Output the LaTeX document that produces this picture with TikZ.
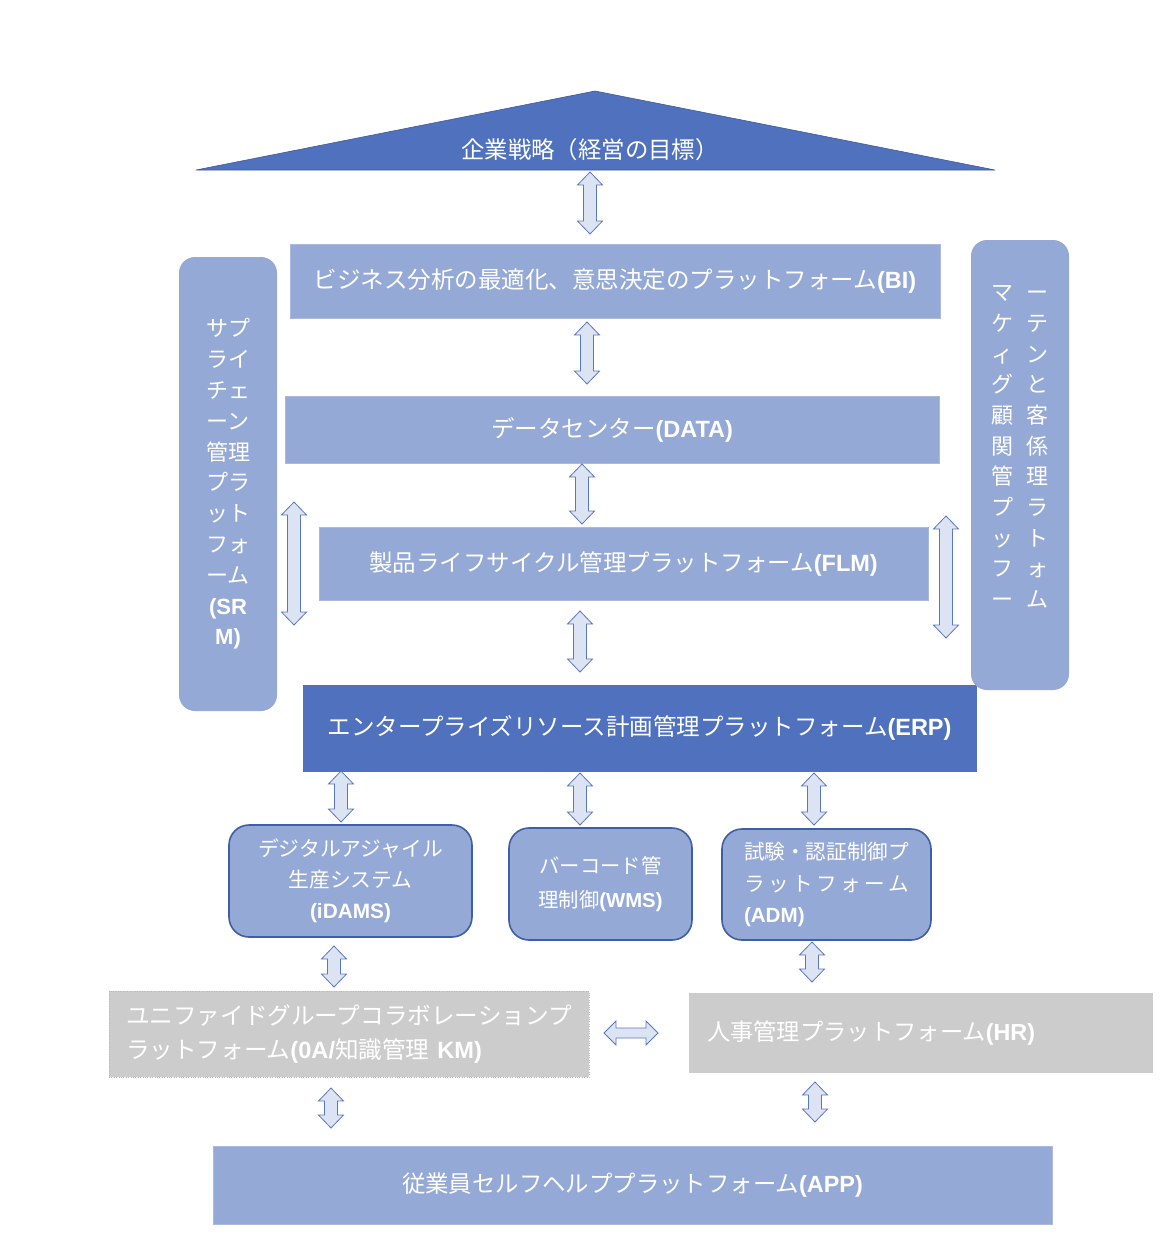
\documentclass[tikz,border=0pt]{standalone}
\usepackage{fontspec}
\setmainfont{Noto Sans CJK JP}
\newfontfamily\latf{Liberation Sans}
\newcommand\codetxt[1]{{\latf\bfseries #1}}
\newcommand\fsz[2]{\fontsize{#1}{#2}\selectfont}
\usetikzlibrary{calc}
\definecolor{darkblue}{HTML}{4F71BE}
\definecolor{lightbox}{HTML}{95A9D6}
\definecolor{lightedge}{HTML}{A9B9E0}
\definecolor{grayfill}{HTML}{CCCCCC}
\definecolor{arrowfill}{HTML}{DCE3F2}
\definecolor{arrowedge}{HTML}{5A78C2}
\definecolor{rboxedge}{HTML}{3E5EA6}
\pgfkeys{/tikz/bal/.initial=13pt,/tikz/baw/.initial=12.5pt,/tikz/bas/.initial=6.5pt}
\tikzset{
  box/.style={rectangle, fill=lightbox, draw=lightedge, line width=0.4pt, text=white, inner sep=0pt, outer sep=0pt},
  panel/.style={box, rounded corners=16pt, draw=none},
  rbox/.style={box, rounded corners=20pt, draw=rboxedge, line width=1.6pt},
  graybox/.style={box, fill=grayfill, draw=none},
  txt/.style={text=white, inner sep=0pt},
  barrow/.style={draw=arrowedge, fill=arrowfill, line width=0.8pt, line join=miter,
    to path={let \p1=(\tikztostart), \p2=(\tikztotarget),
      \p3=($(\p1)!\pgfkeysvalueof{/tikz/bal}!(\p2)$),
      \p4=($(\p2)!\pgfkeysvalueof{/tikz/bal}!(\p1)$) in
      -- ($(\p3)!\pgfkeysvalueof{/tikz/baw}!90:(\p2)$)
      -- ($(\p3)!\pgfkeysvalueof{/tikz/bas}!90:(\p2)$)
      -- ($(\p4)!\pgfkeysvalueof{/tikz/bas}!-90:(\p1)$)
      -- ($(\p4)!\pgfkeysvalueof{/tikz/baw}!-90:(\p1)$)
      -- (\p2)
      -- ($(\p4)!\pgfkeysvalueof{/tikz/baw}!90:(\p1)$)
      -- ($(\p4)!\pgfkeysvalueof{/tikz/bas}!90:(\p1)$)
      -- ($(\p3)!\pgfkeysvalueof{/tikz/bas}!-90:(\p2)$)
      -- ($(\p3)!\pgfkeysvalueof{/tikz/baw}!-90:(\p2)$)
      -- cycle}},
  harrow/.style={barrow, bal=12pt, baw=12pt, bas=5pt}
}
\begin{document}
\begin{tikzpicture}[x=1pt,y=-1pt]
\useasboundingbox (0,0) rectangle (1169,1254);
\fill[white] (0,0) rectangle (1169,1254);

% roof
\filldraw[fill=darkblue, draw=darkblue!80!black, line width=0.6pt] (196,170) -- (595,91) -- (995,170) -- cycle;
\node[txt, font=\fsz{23.4}{27}] (tri) at (590,150) {企業戦略（経営の目標）};
\coordinate (trib) at (590,170);

% main stack
\node[box, minimum width=650, minimum height=74, font=\fsz{23.5}{28}] (bi) at (615,281)
  {ビジネス分析の最適化、意思決定のプラットフォーム\codetxt{(BI)}};
\node[box, minimum width=654, minimum height=67, font=\fsz{23.5}{28}] (data) at (612,429.5)
  {データセンター\codetxt{(DATA)}};
\node[box, minimum width=609, minimum height=73, font=\fsz{23.5}{28}] (flm) at (623.5,563.5)
  {製品ライフサイクル管理プラットフォーム\codetxt{(FLM)}};
\node[box, fill=darkblue, draw=darkblue, minimum width=673, minimum height=86, font=\fsz{23.5}{28}] (erp) at (639.5,728)
  {エンタープライズリソース計画管理プラットフォーム\codetxt{(ERP)}};

% side panels
\node[panel, minimum width=98, minimum height=454, align=center, font=\fsz{22}{30.8}] (srm) at (228,484)
  {サプ\\ライ\\チェ\\ーン\\管理\\プラ\\ット\\フォ\\ーム\\\codetxt{(SR}\\\codetxt{M)}};
\node[panel, minimum width=98, minimum height=450] (mkt) at (1020,465) {};
\node[txt, align=center, font=\fsz{22}{30.7}] (mkttxt) at (1020,447)
  {マ\hspace{13pt}ー\\ケ\hspace{13pt}テ\\ィ\hspace{13pt}ン\\グ\hspace{13pt}と\\顧\hspace{13pt}客\\関\hspace{13pt}係\\管\hspace{13pt}理\\プ\hspace{13pt}ラ\\ッ\hspace{13pt}ト\\フ\hspace{13pt}ォ\\ー\hspace{13pt}ム};

% second level
\node[rbox, minimum width=243, minimum height=112, align=center, font=\fsz{20.8}{31}] (idams) at (350.5,881)
  {デジタルアジャイル\\生産システム\\\codetxt{(iDAMS)}};
\node[rbox, minimum width=183, minimum height=112, align=center, font=\fsz{20.3}{34}] (wms) at (600.5,884)
  {バーコード管\\理制御\codetxt{(WMS)}};
\node[rbox, minimum width=209, minimum height=111, text width=165, align=left, font=\fsz{20.6}{31.5}] (adm) at (826.5,884.5)
  {試験・認証制御プ\\\makebox[165pt][s]{ラ\hfil ッ\hfil ト\hfil フ\hfil ォ\hfil ー\hfil ム}\\\codetxt{(ADM)}};

% third level
\node[graybox, draw=lightedge, dotted, line width=0.8pt, minimum width=480, minimum height=86, text width=446, align=left, font=\fsz{23.6}{34}] (km) at (349,1034)
  {ユニファイドグループコラボレーションプ\\ラットフォーム\codetxt{(0A/}知識管理\codetxt{ KM)}};
\node[graybox, minimum width=464, minimum height=80, text width=428, align=left, font=\fsz{23.3}{28}] (hr) at (921,1033)
  {人事管理プラットフォーム\codetxt{(HR)}};

% bottom
\node[box, minimum width=839, minimum height=78, font=\fsz{23.4}{28}] (app) at (632.5,1185)
  {従業員セルフヘルププラットフォーム\codetxt{(APP)}};

% arrow columns
\coordinate (xa2) at (587,0);
\coordinate (xa3) at (582,0);
\coordinate (xa4) at (580,0);
\coordinate (xb1) at (341,0);
\coordinate (xb2) at (580,0);
\coordinate (xb3) at (814,0);
\coordinate (xc1) at (334,0);
\coordinate (xc2) at (812,0);
\coordinate (xd1) at (331,0);
\coordinate (xd2) at (815,0);

% connectors
\draw[barrow] ($(trib)+(0,2)$) to ($(bi.north -| trib)+(0,-10)$);
\draw[barrow] ($(bi.south -| xa2)+(0,4)$) to ($(data.north -| xa2)+(0,-12)$);
\draw[barrow] ($(data.south -| xa3)+(0,1)$) to ($(flm.north -| xa3)+(0,-3)$);
\draw[barrow] ($(flm.south -| xa4)+(0,11)$) to ($(erp.north -| xa4)+(0,-13)$);
\draw[barrow] ($(srm.east)+(17,18)$) to ($(srm.east)+(17,141)$);
\draw[barrow] ($(mkt.west)+(-25,51)$) to ($(mkt.west)+(-25,173)$);
\draw[barrow] ($(erp.south -| xb1)+(0,0)$) to ($(idams.north -| xb1)+(0,-3)$);
\draw[barrow] ($(erp.south -| xb2)+(0,2)$) to ($(wms.north -| xb2)+(0,-3)$);
\draw[barrow] ($(erp.south -| xb3)+(0,2)$) to ($(adm.north -| xb3)+(0,-4)$);
\draw[barrow] ($(idams.south -| xc1)+(0,9)$) to ($(km.north -| xc1)+(0,-4)$);
\draw[barrow] ($(adm.south -| xc2)+(0,2)$) to ($(hr.north -| xc2)+(0,-11)$);
\draw[harrow] ($(km.east)+(15,-1)$) to ($(hr.west)+(-31,0)$);
\draw[barrow] ($(km.south -| xd1)+(0,11)$) to ($(app.north -| xd1)+(0,-18)$);
\draw[barrow] ($(hr.south -| xd2)+(0,9)$) to ($(app.north -| xd2)+(0,-24)$);
\end{tikzpicture}
\end{document}
